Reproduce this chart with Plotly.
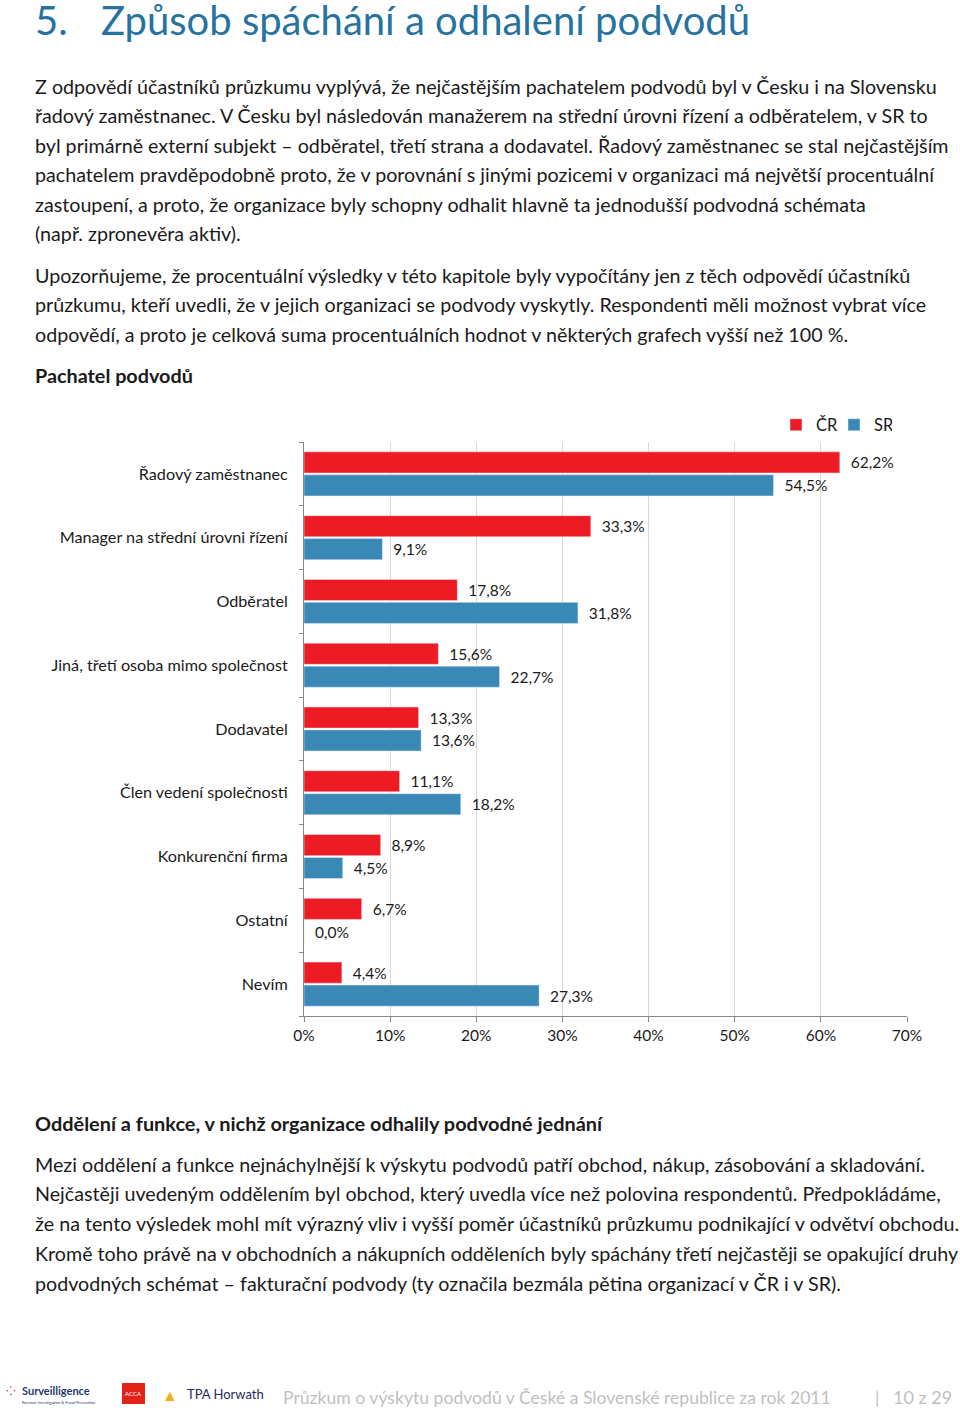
import plotly.graph_objects as go

categories = ["Řadový zaměstnanec", "Manager na střední úrovni řízení", "Odběratel",
              "Jiná, třetí osoba mimo společnost", "Dodavatel", "Člen vedení společnosti",
              "Konkurenční firma", "Ostatní", "Nevím"]
cr_values = [62.2, 33.3, 17.8, 15.6, 13.3, 11.1, 8.9, 6.7, 4.4]
sr_values = [54.5, 9.1, 31.8, 22.7, 13.6, 18.2, 4.5, 0.0, 27.3]
x_ticks = [0, 10, 20, 30, 40, 50, 60, 70]
x_tick_labels = [f"{v}%" for v in x_ticks]

W, H = 960, 1411
RED = "#ED1C24"
BLUE = "#3A88B6"
FONT = "Lato"
TXT = "#1a1a1a"

ypos = list(range(len(categories)))

fig = go.Figure()
fig.add_trace(go.Bar(name="ČR", y=ypos, x=cr_values, orientation="h", marker_color=RED,
                     texttemplate="\u00a0\u00a0%{x:.1f}%", textposition="outside",
                     textfont=dict(size=15.5, color=TXT, family=FONT), cliponaxis=False))
fig.add_trace(go.Bar(name="SR", y=ypos, x=sr_values, orientation="h", marker_color=BLUE,
                     texttemplate="\u00a0\u00a0%{x:.1f}%", textposition="outside",
                     textfont=dict(size=15.5, color=TXT, family=FONT), cliponaxis=False))

def py(p):
    return 1 - p / H

fig.update_layout(
    width=W, height=H, margin=dict(l=0, r=0, t=0, b=0, autoexpand=False),
    paper_bgcolor="white", plot_bgcolor="white",
    separators=", ",
    barmode="group", bargap=0.28, bargroupgap=0.08,
    font=dict(family=FONT, color=TXT),
    showlegend=True,
    legend=dict(orientation="h", x=776 / W, y=py(425), xanchor="left", yanchor="middle",
                font=dict(size=16.5, family=FONT, color=TXT), itemwidth=30,
                entrywidth=13, entrywidthmode="pixels",
                traceorder="normal", bgcolor="rgba(0,0,0,0)"),
    xaxis=dict(domain=[304 / W, 907 / W], range=[0, 70], tickvals=x_ticks, ticktext=x_tick_labels,
               showgrid=True, gridcolor="#D9D9D9", gridwidth=1, zeroline=False,
               showline=True, linecolor="#868686", ticks="outside", ticklen=5,
               tickcolor="#868686", tickfont=dict(size=15.5, family=FONT, color=TXT),
               anchor="y"),
    yaxis=dict(domain=[py(1016), py(442)], range=[len(categories) - 0.5, -0.5],
               tickvals=ypos, ticktext=categories, ticks="", showgrid=False, zeroline=False,
               showline=True, linecolor="#868686",
               tickfont=dict(size=16.2, family=FONT, color=TXT), ticklabelstandoff=12,
               minor=dict(tickvals=[i - 0.5 for i in range(len(categories) + 1)],
                          ticks="outside", ticklen=4, tickcolor="#868686", showgrid=False)),
)

ann = []
def text(x, y, s, size=19.7, color=TXT, bold=False, anchor="left", family=FONT):
    if bold:
        s = "<b>" + s + "</b>"
    ann.append(dict(x=(x - 2) / W, y=py(y), xref="paper", yref="paper", text=s, showarrow=False,
                    xanchor=anchor, yanchor="middle", font=dict(size=size, color=color, family=family)))

TITLE = "#26739F"
text(35, 20, "5.", size=40, color=TITLE)
text(101, 20, "Způsob spáchání a odhalení podvodů", size=40, color=TITLE)

p1 = ["Z odpovědí účastníků průzkumu vyplývá, že nejčastějším pachatelem podvodů byl v Česku i na Slovensku",
      "řadový zaměstnanec. V Česku byl následován manažerem na střední úrovni řízení a odběratelem, v SR to",
      "byl primárně externí subjekt – odběratel, třetí strana a dodavatel. Řadový zaměstnanec se stal nejčastějším",
      "pachatelem pravděpodobně proto, že v porovnání s jinými pozicemi v organizaci má největší procentuální",
      "zastoupení, a proto, že organizace byly schopny odhalit hlavně ta jednodušší podvodná schémata",
      "(např. zpronevěra aktiv)."]
for i, s in enumerate(p1):
    text(35, 86 + i * 29.6, s)
p2 = ["Upozorňujeme, že procentuální výsledky v této kapitole byly vypočítány jen z těch odpovědí účastníků",
      "průzkumu, kteří uvedli, že v jejich organizaci se podvody vyskytly. Respondenti měli možnost vybrat více",
      "odpovědí, a proto je celková suma procentuálních hodnot v některých grafech vyšší než 100 %."]
for i, s in enumerate(p2):
    text(35, 275 + i * 29.6, s)
text(35, 375, "Pachatel podvodů", size=19.8, bold=True)
text(35, 1123, "Oddělení a funkce, v nichž organizace odhalily podvodné jednání", size=19.9, bold=True)
p3 = ["Mezi oddělení a funkce nejnáchylnější k výskytu podvodů patří obchod, nákup, zásobování a skladování.",
      "Nejčastěji uvedeným oddělením byl obchod, který uvedla více než polovina respondentů. Předpokládáme,",
      "že na tento výsledek mohl mít výrazný vliv i vyšší poměr účastníků průzkumu podnikající v odvětví obchodu.",
      "Kromě toho právě na v obchodních a nákupních odděleních byly spáchány třetí nejčastěji se opakující druhy",
      "podvodných schémat – fakturační podvody (ty označila bezmála pětina organizací v ČR i v SR)."]
for i, s in enumerate(p3):
    text(35, 1164 + i * 29.8, s)

# footer
GRAY = "#BFBFBF"
text(283, 1397, "Průzkum o výskytu podvodů v České a Slovenské republice za rok 2011", size=17.6, color=GRAY)
text(875, 1397, "|", size=18, color=GRAY)
text(893, 1397, "10 z 29", size=18, color=GRAY)
text(22, 1390, "Surveilligence", size=11, color="#1F3A6B", bold=True)
text(22, 1402, "Forensic Investigation &amp; Fraud Prevention", size=4, color="#1F3A6B")
text(6, 1390, "⁘", size=12, color="#C8102E")
text(187, 1394, "TPA Horwath", size=13, color="#1F2A5A")
text(162, 1394, "▲", size=16, color="#F2B21B")
ann.append(dict(x=133.5 / W, y=py(1393.5), xref="paper", yref="paper", text="ACCA", showarrow=False,
                xanchor="center", yanchor="middle",
                font=dict(size=6, color="white", family=FONT)))

fig.update_layout(annotations=ann)
fig.add_shape(type="rect", xref="paper", yref="paper", x0=122 / W, x1=145 / W, y0=py(1404), y1=py(1383),
              fillcolor="#E2231A", line_width=0, layer="below")

fig.write_html("out.html", config={"displayModeBar": False},
               post_script="document.body.style.margin='0';document.body.style.overflow='hidden';")
